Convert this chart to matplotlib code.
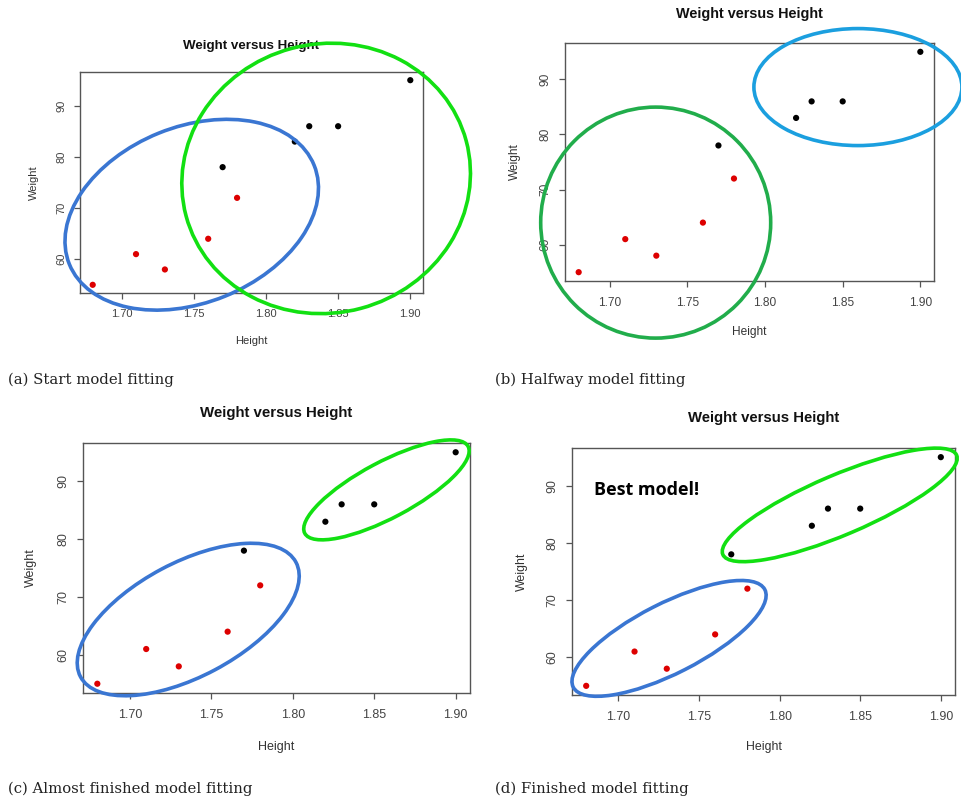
import matplotlib
matplotlib.use("Agg")
import matplotlib.pyplot as plt
from matplotlib.patches import Ellipse
from matplotlib.transforms import ScaledTranslation

# ---------------- data ----------------
height = [1.68, 1.71, 1.73, 1.76, 1.77, 1.78, 1.82, 1.83, 1.85, 1.90]
weight = [55, 61, 58, 64, 78, 72, 83, 86, 86, 95]
group = ["r", "r", "r", "r", "k", "r", "k", "k", "k", "k"]
x_ticks = [1.70, 1.75, 1.80, 1.85, 1.90]
x_ticklabels = ["1.70", "1.75", "1.80", "1.85", "1.90"]
y_ticks = [60, 70, 80, 90]
y_ticklabels = ["60", "70", "80", "90"]
title = "Weight versus Height"
xlabel = "Height"
ylabel = "Weight"
captions = ["(a) Start model fitting", "(b) Halfway model fitting",
            "(c) Almost finished model fitting", "(d) Finished model fitting"]

# ellipses per panel: (center x, center y [data], width px, height px, angle, color)
ellipses = [
    [(1.7486, 68.7, 264, 176, 22, "#3a76d2"), (1.8417, 75.8, 290, 269, 15, "#12e012")],
    [(1.7296, 64.0, 230, 231, 0, "#21ad4b"), (1.8598, 88.6, 208, 117, 0, "#1b9fdf")],
    [(1.7358, 66.1, 244, 114, 28, "#3a76d2"), (1.8575, 88.5, 185, 56, 28, "#12e012")],
    [(1.7314, 63.3, 215, 70, 27, "#3a76d2"), (1.8373, 86.65, 254, 60, 23, "#12e012")],
]

W, H = 962, 800
DPI = 100
fig = plt.figure(figsize=(W / DPI, H / DPI), dpi=DPI)
fig.patch.set_facecolor("white")

# axes boxes in pixels: left, top, right, bottom ; base font size
boxes = [(80, 72, 423, 293, 8.0), (565, 43, 934, 281, 8.6),
         (83, 443, 470, 693, 9.0), (572, 448, 955, 695, 8.9)]
# offsets (px): title above, xlabel below, ylabel left
offsets = [(26, 48, 46), (29, 51, 50), (30, 54, 52), (30, 52, 50)]
caption_pos = [(8, 380), (495, 380), (8, 789), (495, 789)]

xr = max(height) - min(height)
yr = max(weight) - min(weight)
xlim = (min(height) - 0.04 * xr, max(height) + 0.04 * xr)
ylim = (min(weight) - 0.04 * yr, max(weight) + 0.04 * yr)

sans = ["Liberation Sans", "DejaVu Sans"]
cmap = {"r": "#dd0000", "k": "#000000"}

for i, (l, t, r, b, fs) in enumerate(boxes):
    ax = fig.add_axes([l / W, 1 - b / H, (r - l) / W, (b - t) / H])
    ax.scatter(height, weight, c=[cmap[g] for g in group], s=20, zorder=3,
               edgecolors="none")
    ax.set_xlim(*xlim)
    ax.set_ylim(*ylim)
    ax.set_xticks(x_ticks)
    ax.set_xticklabels(x_ticklabels)
    ax.set_yticks(y_ticks)
    ax.set_yticklabels(y_ticklabels, rotation=90, va="center")
    for s in ax.spines.values():
        s.set_color("#555555")
        s.set_linewidth(1.0)
    ax.tick_params(axis="both", direction="out", length=4, width=0.9,
                   color="#555555", labelcolor="#444444", labelsize=fs)
    ax.tick_params(axis="x", pad=7.5)
    ax.tick_params(axis="y", pad=5.5)
    for lab in ax.get_xticklabels() + ax.get_yticklabels():
        lab.set_family(sans)
    to, xo, yo = offsets[i]
    ax.annotate(title, xy=(0.5, 1), xycoords="axes fraction",
                xytext=(0, to), textcoords="offset pixels",
                ha="center", va="center", fontsize=fs * 1.2,
                fontweight="bold", family=sans, color="#111111")
    ax.annotate(xlabel, xy=(0.5, 0), xycoords="axes fraction",
                xytext=(0, -xo), textcoords="offset pixels",
                ha="center", va="center", fontsize=fs, family=sans,
                color="#333333")
    ax.annotate(ylabel, xy=(0, 0.5), xycoords="axes fraction",
                xytext=(-yo, 0), textcoords="offset pixels",
                ha="center", va="center", fontsize=fs, family=sans,
                color="#333333", rotation=90)
    for (cx, cy, ew, eh, ang, col) in ellipses[i]:
        tr = fig.dpi_scale_trans + ScaledTranslation(cx, cy, ax.transData)
        e = Ellipse((0, 0), ew / DPI, eh / DPI, angle=ang, transform=tr,
                    fill=False, edgecolor=col, linewidth=2.6, clip_on=False,
                    zorder=4)
        ax.add_patch(e)
    if i == 3:
        ax.text(0.057, 0.83, "Best model!", transform=ax.transAxes,
                fontsize=13, fontweight="bold", family=["Open Sans", "DejaVu Sans"],
                ha="left", va="center", color="black")

for (cx, cy), cap in zip(caption_pos, captions):
    fig.text(cx / W, 1 - cy / H, cap, ha="left", va="center",
             fontsize=10.7, family=["DejaVu Serif"], color="#222222")

fig.savefig("out.png", dpi=DPI, facecolor="white")
